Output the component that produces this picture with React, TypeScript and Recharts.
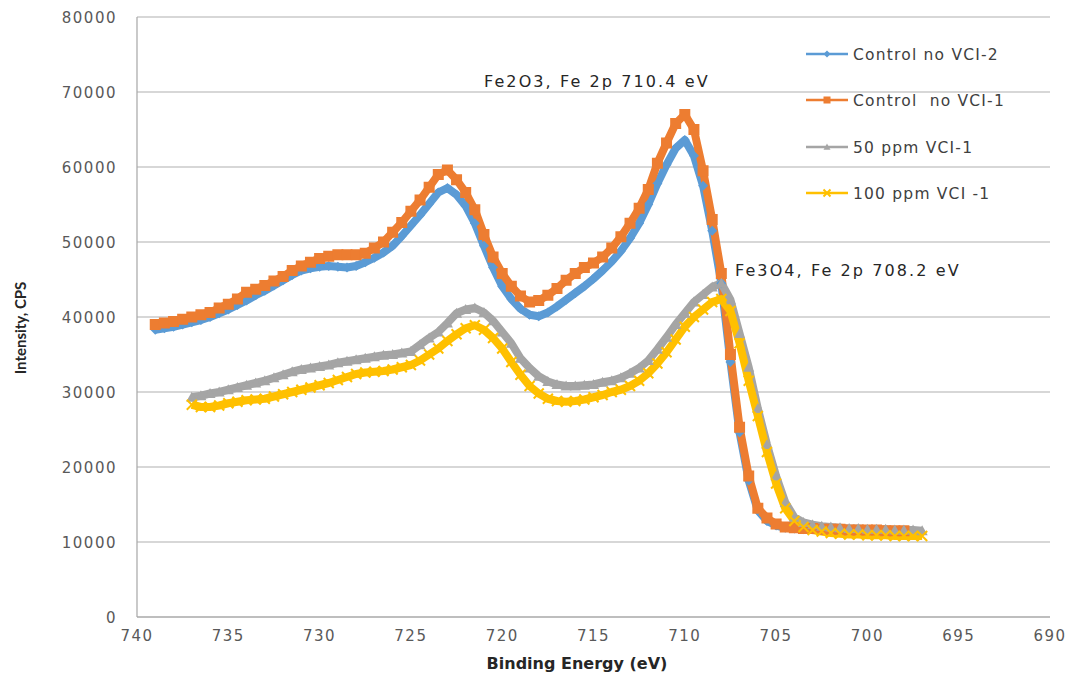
import React from "react";
import { LineChart, Line, XAxis, YAxis, CartesianGrid } from "recharts";

// binding energies (eV)
const energyControl = [
  739, 738.5, 738, 737.5, 737, 736.5, 736, 735.5, 735, 734.5, 734, 733.5, 733, 732.5, 732, 731.5,
  731, 730.5, 730, 729.5, 729, 728.5, 728, 727.5, 727, 726.5, 726, 725.5, 725, 724.5, 724, 723.5,
  723, 722.5, 722, 721.5, 721, 720.5, 720, 719.5, 719, 718.5, 718, 717.5, 717, 716.5, 716, 715.5,
  715, 714.5, 714, 713.5, 713, 712.5, 712, 711.5, 711, 710.5, 710, 709.5, 709, 708.5, 708, 707.5,
  707, 706.5, 706, 705.5, 705, 704.5, 704, 703.5, 703, 702.5, 702, 701.5, 701, 700.5, 700, 699.5,
  699, 698.5, 698,
];

const energyVci = [
  737, 736.5, 736, 735.5, 735, 734.5, 734, 733.5, 733, 732.5, 732, 731.5, 731, 730.5, 730, 729.5,
  729, 728.5, 728, 727.5, 727, 726.5, 726, 725.5, 725, 724.5, 724, 723.5, 723, 722.5, 722, 721.5,
  721, 720.5, 720, 719.5, 719, 718.5, 718, 717.5, 717, 716.5, 716, 715.5, 715, 714.5, 714, 713.5,
  713, 712.5, 712, 711.5, 711, 710.5, 710, 709.5, 709, 708.5, 708, 707.5, 707, 706.5, 706, 705.5,
  705, 704.5, 704, 703.5, 703, 702.5, 702, 701.5, 701, 700.5, 700, 699.5, 699, 698.5, 698, 697.5,
  697,
];

// Control no VCI-2
const controlVci2 = [
  38300, 38500, 38700, 39000, 39300, 39600, 40000, 40500, 41000, 41600, 42200, 42900, 43500, 44200, 44900, 45600,
  46200, 46500, 46700, 46800, 46700, 46600, 46800, 47300, 47900, 48600, 49500, 50800, 52200, 53600, 55100, 56600,
  57200, 56300, 54800, 52500, 49500, 46600, 44100, 42400, 41100, 40300, 40100, 40600, 41400, 42300, 43200, 44100,
  45100, 46200, 47400, 48800, 50500, 52500, 55000, 57800, 60300, 62500, 63600, 61500, 57500, 51500, 44500, 34000,
  24600, 18200, 14200, 12800, 12200, 11900, 11800, 11700, 11700, 11600, 11600, 11600, 11500, 11500, 11500, 11500,
  11400, 11400, 11400,
];

// Control  no VCI-1
const controlVci1 = [
  39000, 39200, 39400, 39700, 40000, 40300, 40600, 41200, 41700, 42400, 43300, 43700, 44200, 44800, 45400, 46200,
  46800, 47300, 47800, 48100, 48300, 48300, 48300, 48500, 49200, 50000, 51300, 52600, 54100, 55600, 57300, 59000,
  59600, 58300, 56600, 54300, 51000, 48000, 45800, 44100, 42800, 42000, 42200, 42900, 43800, 44900, 45800, 46600,
  47200, 48000, 49200, 50700, 52500, 54500, 57000, 60500, 63200, 65800, 67000, 65000, 59500, 53000, 45800, 35000,
  25300, 18800, 14500, 13200, 12400, 12000, 11900, 11800, 11800, 11700, 11700, 11700, 11600, 11600, 11600, 11600,
  11500, 11500, 11500,
];

// 50 ppm VCI-1
const ppm50 = [
  29300, 29500, 29800, 30000, 30300, 30600, 30900, 31200, 31500, 31900, 32300, 32700, 33000, 33200, 33400, 33600,
  33900, 34100, 34300, 34500, 34700, 34900, 35000, 35200, 35400, 36300, 37200, 38000, 39200, 40500, 41000, 41200,
  40600, 39500, 38000, 36500, 34500, 33200, 32100, 31400, 31000, 30800, 30800, 30900, 31000, 31300, 31500, 31900,
  32500, 33200, 34200, 35700, 37300, 39000, 40500, 42000, 43000, 44000, 44500, 42300, 37800, 33300, 27800, 23000,
  18800, 15300, 13300, 12600, 12300, 12100, 12000, 11900, 11800, 11800, 11700, 11700, 11700, 11600, 11600, 11600,
  11500,
];

// 100 ppm VCI -1
const ppm100 = [
  28300, 28000, 28000, 28200, 28500, 28700, 28900, 29000, 29100, 29400, 29700, 30000, 30300, 30600, 30900, 31200,
  31600, 32000, 32400, 32600, 32700, 32800, 33000, 33300, 33600, 34200, 35000, 35800, 36800, 37700, 38500, 38900,
  38300, 37200, 35800, 34000, 32300, 30800, 29800, 29100, 28800, 28700, 28800, 29000, 29300, 29600, 30000, 30300,
  30800, 31500, 32500, 33800, 35300, 37000, 38700, 40000, 41000, 42000, 42400, 40800, 36500, 31500, 26800, 22000,
  17800, 14500, 12800, 12000, 11600, 11400, 11200, 11100, 11000, 11000, 10900, 10900, 10900, 10800, 10800, 10800,
  10800,
];

const xTicks = [740, 735, 730, 725, 720, 715, 710, 705, 700, 695, 690];
const yTicks = [0, 10000, 20000, 30000, 40000, 50000, 60000, 70000, 80000];

type Shape = "diamond" | "square" | "triangle" | "cross";

const series: { name: string; color: string; shape: Shape; data: { e: number; v: number }[] }[] = [
  { name: "Control no VCI-2", color: "#5B9BD5", shape: "diamond", data: energyControl.map((e, i) => ({ e, v: controlVci2[i] })) },
  { name: "Control  no VCI-1", color: "#ED7D31", shape: "square", data: energyControl.map((e, i) => ({ e, v: controlVci1[i] })) },
  { name: "50 ppm VCI-1", color: "#A5A5A5", shape: "triangle", data: energyVci.map((e, i) => ({ e, v: ppm50[i] })) },
  { name: "100 ppm VCI -1", color: "#FFC000", shape: "cross", data: energyVci.map((e, i) => ({ e, v: ppm100[i] })) },
];

function marker(shape: Shape, color: string, cx: number, cy: number, s: number, key?: string) {
  switch (shape) {
    case "diamond":
      return <path key={key} d={`M${cx},${cy - s}L${cx + s},${cy}L${cx},${cy + s}L${cx - s},${cy}Z`} fill={color} />;
    case "square":
      return <rect key={key} x={cx - s} y={cy - s} width={2 * s} height={2 * s} fill={color} />;
    case "triangle":
      return <path key={key} d={`M${cx},${cy - s}L${cx + s},${cy + s * 0.8}L${cx - s},${cy + s * 0.8}Z`} fill={color} />;
    default:
      return (
        <path key={key} d={`M${cx - s},${cy - s}L${cx + s},${cy + s}M${cx + s},${cy - s}L${cx - s},${cy + s}`} stroke={color} strokeWidth={2} />
      );
  }
}

const tickFont = { fontFamily: "DejaVu Sans", fontSize: 15, letterSpacing: 1.5, fill: "#595959" };

function XTick(props: any) {
  const { x, y, payload } = props;
  return (
    <text x={x} y={y} dy={16} textAnchor="middle" {...tickFont}>
      {payload.value}
    </text>
  );
}

function YTick(props: any) {
  const { x, y, payload } = props;
  return (
    <text x={x - 12} y={y} dy={5.5} textAnchor="end" {...tickFont}>
      {payload.value}
    </text>
  );
}

const dotSize: Record<Shape, number> = { diamond: 5, square: 5.5, triangle: 5.5, cross: 5 };

export default function App() {
  const legendY = [54, 100, 147, 193];
  return (
    <div style={{ position: "absolute", left: 0, top: 0, width: 1070, height: 679, background: "#fff" }}>
      <LineChart width={1070} height={679} margin={{ top: 17, right: 20, bottom: 32, left: 0 }}>
        <CartesianGrid vertical={false} stroke="#B0B0B0" strokeWidth={1.2} />
        <XAxis
          dataKey="e"
          type="number"
          domain={[690, 740]}
          ticks={xTicks}
          reversed
          allowDataOverflow
          axisLine={{ stroke: "#A6A6A6", strokeWidth: 1.2 }}
          tickLine={false}
          tick={<XTick />}
          interval={0}
        />
        <YAxis
          dataKey="v"
          type="number"
          domain={[0, 80000]}
          ticks={yTicks}
          width={137}
          axisLine={{ stroke: "#A6A6A6", strokeWidth: 1.2 }}
          tickLine={false}
          tick={<YTick />}
          interval={0}
        />
        {series.map((s) => (
          <Line
            key={s.name}
            data={s.data}
            dataKey="v"
            name={s.name}
            type="linear"
            stroke={s.color}
            strokeWidth={8}
            strokeLinejoin="round"
            isAnimationActive={false}
            dot={(p: any) => marker(s.shape, s.color, p.cx, p.cy, dotSize[s.shape], `${s.name}-${p.index}`)}
            activeDot={false}
          />
        ))}
      </LineChart>
      <svg width={1070} height={679} style={{ position: "absolute", left: 0, top: 0, pointerEvents: "none" }}>
        <text x={484} y={87} fontFamily="DejaVu Sans" fontSize={16} letterSpacing={2.1} fill="#262626">
          Fe2O3, Fe 2p 710.4 eV
        </text>
        <text x={735} y={276} fontFamily="DejaVu Sans" fontSize={16} letterSpacing={2.1} fill="#262626">
          Fe3O4, Fe 2p 708.2 eV
        </text>
        {series.map((s, i) => (
          <g key={s.name}>
            <line x1={806} x2={848} y1={legendY[i]} y2={legendY[i]} stroke={s.color} strokeWidth={2.5} />
            {marker(s.shape, s.color, 827, legendY[i], 3.5)}
            <text x={853} y={legendY[i] + 6} fontFamily="DejaVu Sans" fontSize={15.5} letterSpacing={1.2} fill="#404040" style={{ whiteSpace: "pre" }}>
              {s.name}
            </text>
          </g>
        ))}
        <text x={577} y={669} textAnchor="middle" fontFamily="DejaVu Sans" fontWeight="bold" fontSize={16} fill="#262626">
          Binding Energy (eV)
        </text>
        <text
          transform="translate(26,328) rotate(-90)"
          textAnchor="middle"
          fontFamily="Liberation Sans Narrow, Lato, sans-serif"
          fontWeight="bold"
          fontSize={15}
          fill="#262626"
        >
          Intensity, CPS
        </text>
      </svg>
    </div>
  );
}
